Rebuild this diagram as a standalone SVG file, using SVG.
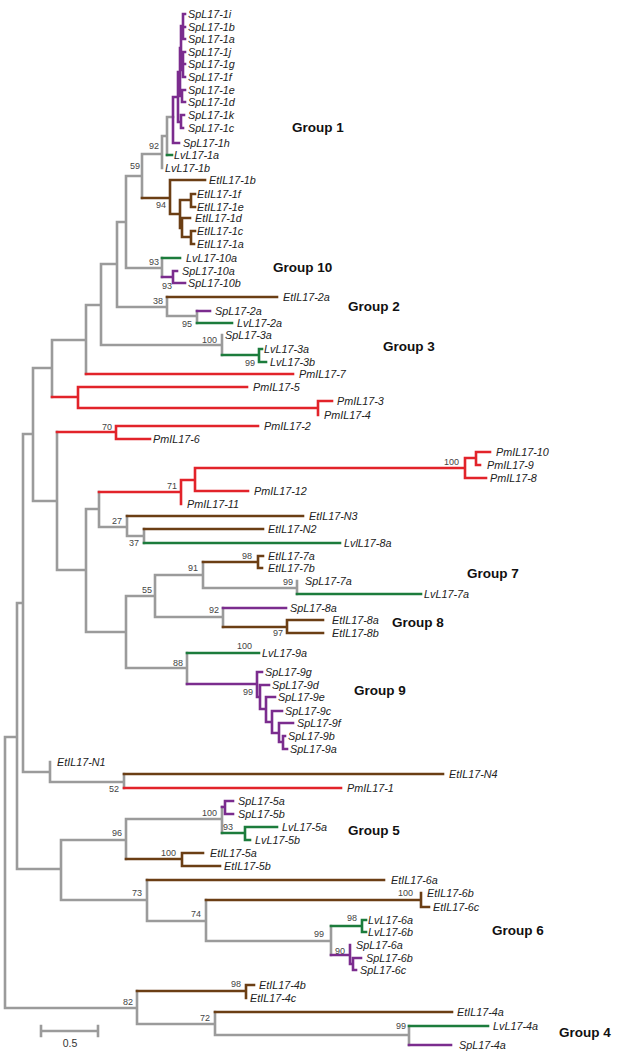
<svg xmlns="http://www.w3.org/2000/svg" width="617" height="1056" viewBox="0 0 617 1056">
<style>
.e{fill:none;stroke-width:2.6;stroke-linecap:square}
.gy{stroke:#9b9b9b}.rd{stroke:#e2232a}.pu{stroke:#7b2c8e}.gn{stroke:#1c7c3c}.br{stroke:#6b3e14}
.lf{font-family:"Liberation Sans",Arial,sans-serif;font-style:italic;font-size:10.8px;fill:#222}
.bs{font-family:"Liberation Sans",Arial,sans-serif;font-size:9px;fill:#444;text-anchor:end}
.gp{font-family:"Liberation Sans",Arial,sans-serif;font-weight:bold;font-size:13.5px;fill:#111}
</style>
<rect width="617" height="1056" fill="#fff"/>
<g id="connectors">
<path class="e gy" d="M5 737V1008M5 737H17M5 1008H137M17 603V869M17 603H23M17 869H61M23 434V772M23 434H33M23 772H50M33 368V501M33 368H52M33 501H57M52 340V397M52 340H86M86 305V374M86 305H101M101 264V345M101 264H117M101 345H222M222 335V355M117 222V307M117 222H126M117 307H167M167 297V316M167 316H197M197 311V323M126 176V268M126 176H142M126 268H162M162 258V277M142 154V198M142 154H162M162 136V168M162 136H167M167 117V155M167 117H173M57 432V570M57 570H86M86 509V632M86 509H99M86 632H126M99 492V527M99 527H127M127 516V536M127 536H144M144 529V543M126 596V668M126 596H155M126 668H187M155 575V617M155 575H203M155 617H223M203 562V588M203 588H297M297 581V594M223 608V627M187 653V684M50 762V782M50 782H124M124 774V788M61 840V900M61 840H126M61 900H147M126 819V859M126 819H222M222 807V833M147 880V921M147 921H206M206 900V941M206 941H331M331 926V955M137 991V1024M137 1024H215M215 1012V1035M215 1035H409M409 1026V1045"/>
<path class="e rd" d="M52 397H78M78 387V408M78 387H247M78 408H318M318 401V415M318 401H332M86 374H293M57 432H116M116 426V439M116 426H258M116 439H150M99 492H181M181 480V504M181 480H195M195 468V491M195 468H465M195 491H248M465 458V478M465 458H476M465 478H486M476 452V465M476 452H490M476 465H480M124 788H341"/>
<path class="e pu" d="M173 97V143M173 143H179M173 97H178M178 72V122M178 122H181M181 115V128M181 115H184M181 128H183M178 72H180M180 48V96M180 96H182M182 90V102M182 90H185M182 102H185M180 48H181M181 26V70M181 26H183M183 14V39M183 14H185M183 27H185M183 39H185M181 70H183M183 52V77M183 52H185M183 64H185M183 77H185M162 277H173M173 271V283M173 271H177M173 283H185M197 311H210M223 608H286M187 684H257M257 672V697M257 672H262M257 697H260M260 685V709M260 685H269M260 709H266M266 697V722M266 697H275M266 722H272M272 711V733M272 711H282M272 733H279M279 723V742M279 723H293M279 742H283M283 736V749M283 736H285M283 749H287M222 807H225M225 801V814M225 801H233M225 814H233M331 955H350M350 945V964M350 964H353M353 958V970M353 958H361M353 970H356M409 1045H451"/>
<path class="e gn" d="M167 155H172M162 258H180M197 323H232M222 355H259M259 349V362M259 349H262M259 362H266M144 543H340M297 594H421M187 653H259M222 833H245M245 827V840M245 827H277M245 840H250M331 926H362M362 920V932M362 920H366M362 932H366M409 1026H488"/>
<path class="e br" d="M142 198H170M170 180V214M170 180H205M170 214H180M180 200V228M180 200H191M191 194V207M191 194H195M191 207H195M180 228H182M182 218V237M182 218H190M182 237H191M191 231V244M191 231H195M191 244H194M167 297H277M127 516H303M144 529H263M203 562H258M258 556V568M258 556H263M258 568H262M223 627H287M287 620V633M287 620H323M287 633H323M124 774H443M126 859H182M182 853V866M182 853H203M182 866H220M147 880H384M206 900H421M421 893V907M421 907H429M137 991H246M246 985V998M246 985H254M215 1012H452"/>
</g>
<g id="leaves">
<g id="SpL17-1i"><text class="lf" x="188" y="18">SpL17-1i</text></g>
<g id="SpL17-1b"><text class="lf" x="188" y="31">SpL17-1b</text></g>
<g id="SpL17-1a"><text class="lf" x="188" y="43">SpL17-1a</text></g>
<g id="SpL17-1j"><text class="lf" x="188" y="56">SpL17-1j</text></g>
<g id="SpL17-1g"><text class="lf" x="188" y="68">SpL17-1g</text></g>
<g id="SpL17-1f"><text class="lf" x="188" y="81">SpL17-1f</text></g>
<g id="SpL17-1e"><text class="lf" x="188" y="94">SpL17-1e</text></g>
<g id="SpL17-1d"><text class="lf" x="188" y="106">SpL17-1d</text></g>
<g id="SpL17-1k"><text class="lf" x="188" y="119">SpL17-1k</text></g>
<g id="SpL17-1c"><text class="lf" x="188" y="132">SpL17-1c</text></g>
<g id="SpL17-1h"><text class="lf" x="183" y="147">SpL17-1h</text></g>
<g id="LvL17-1a"><text class="lf" x="174" y="159">LvL17-1a</text></g>
<g id="LvL17-1b"><text class="lf" x="165" y="172">LvL17-1b</text></g>
<g id="EtIL17-1b"><text class="lf" x="209" y="184">EtIL17-1b</text></g>
<g id="EtIL17-1f"><text class="lf" x="197" y="198">EtIL17-1f</text></g>
<g id="EtIL17-1e"><text class="lf" x="197" y="211">EtIL17-1e</text></g>
<g id="EtIL17-1d"><text class="lf" x="195" y="222">EtIL17-1d</text></g>
<g id="EtIL17-1c"><text class="lf" x="197" y="235">EtIL17-1c</text></g>
<g id="EtIL17-1a"><text class="lf" x="197" y="248">EtIL17-1a</text></g>
<g id="LvL17-10a"><text class="lf" x="186" y="262">LvL17-10a</text></g>
<g id="SpL17-10a"><text class="lf" x="182" y="275">SpL17-10a</text></g>
<g id="SpL17-10b"><text class="lf" x="188" y="287">SpL17-10b</text></g>
<g id="EtIL17-2a"><text class="lf" x="283" y="301">EtIL17-2a</text></g>
<g id="SpL17-2a"><text class="lf" x="215" y="315">SpL17-2a</text></g>
<g id="LvL17-2a"><text class="lf" x="237" y="327">LvL17-2a</text></g>
<g id="SpL17-3a"><text class="lf" x="225" y="339">SpL17-3a</text></g>
<g id="LvL17-3a"><text class="lf" x="264" y="353">LvL17-3a</text></g>
<g id="LvL17-3b"><text class="lf" x="270" y="366">LvL17-3b</text></g>
<g id="PmIL17-7"><text class="lf" x="299" y="378">PmIL17-7</text></g>
<g id="PmIL17-5"><text class="lf" x="253" y="391">PmIL17-5</text></g>
<g id="PmIL17-3"><text class="lf" x="337" y="405">PmIL17-3</text></g>
<g id="PmIL17-4"><text class="lf" x="324" y="419">PmIL17-4</text></g>
<g id="PmIL17-2"><text class="lf" x="264" y="430">PmIL17-2</text></g>
<g id="PmIL17-6"><text class="lf" x="153" y="443">PmIL17-6</text></g>
<g id="PmIL17-10"><text class="lf" x="496" y="456">PmIL17-10</text></g>
<g id="PmIL17-9"><text class="lf" x="487" y="469">PmIL17-9</text></g>
<g id="PmIL17-8"><text class="lf" x="490" y="482">PmIL17-8</text></g>
<g id="PmIL17-12"><text class="lf" x="254" y="495">PmIL17-12</text></g>
<g id="PmIL17-11"><text class="lf" x="187" y="508">PmIL17-11</text></g>
<g id="EtIL17-N3"><text class="lf" x="309" y="520">EtIL17-N3</text></g>
<g id="EtIL17-N2"><text class="lf" x="268" y="533">EtIL17-N2</text></g>
<g id="LvlL17-8a"><text class="lf" x="344" y="547">LvlL17-8a</text></g>
<g id="EtIL17-7a"><text class="lf" x="268" y="560">EtIL17-7a</text></g>
<g id="EtIL17-7b"><text class="lf" x="268" y="572">EtIL17-7b</text></g>
<g id="SpL17-7a"><text class="lf" x="305" y="585">SpL17-7a</text></g>
<g id="LvL17-7a"><text class="lf" x="424" y="598">LvL17-7a</text></g>
<g id="SpL17-8a"><text class="lf" x="290" y="612">SpL17-8a</text></g>
<g id="EtIL17-8a"><text class="lf" x="332" y="624">EtIL17-8a</text></g>
<g id="EtIL17-8b"><text class="lf" x="332" y="637">EtIL17-8b</text></g>
<g id="LvL17-9a"><text class="lf" x="262" y="657">LvL17-9a</text></g>
<g id="SpL17-9g"><text class="lf" x="265" y="676">SpL17-9g</text></g>
<g id="SpL17-9d"><text class="lf" x="272" y="689">SpL17-9d</text></g>
<g id="SpL17-9e"><text class="lf" x="278" y="701">SpL17-9e</text></g>
<g id="SpL17-9c"><text class="lf" x="285" y="715">SpL17-9c</text></g>
<g id="SpL17-9f"><text class="lf" x="297" y="727">SpL17-9f</text></g>
<g id="SpL17-9b"><text class="lf" x="288" y="740">SpL17-9b</text></g>
<g id="SpL17-9a"><text class="lf" x="290" y="753">SpL17-9a</text></g>
<g id="EtIL17-N1"><text class="lf" x="57" y="766">EtIL17-N1</text></g>
<g id="EtIL17-N4"><text class="lf" x="449" y="778">EtIL17-N4</text></g>
<g id="PmIL17-1"><text class="lf" x="347" y="792">PmIL17-1</text></g>
<g id="SpL17-5a"><text class="lf" x="238" y="805">SpL17-5a</text></g>
<g id="SpL17-5b"><text class="lf" x="238" y="818">SpL17-5b</text></g>
<g id="LvL17-5a"><text class="lf" x="282" y="831">LvL17-5a</text></g>
<g id="LvL17-5b"><text class="lf" x="255" y="844">LvL17-5b</text></g>
<g id="EtIL17-5a"><text class="lf" x="210" y="857">EtIL17-5a</text></g>
<g id="EtIL17-5b"><text class="lf" x="224" y="870">EtIL17-5b</text></g>
<g id="EtIL17-6a"><text class="lf" x="391" y="884">EtIL17-6a</text></g>
<g id="EtIL17-6b"><text class="lf" x="427" y="897">EtIL17-6b</text></g>
<g id="EtIL17-6c"><text class="lf" x="433" y="911">EtIL17-6c</text></g>
<g id="LvL17-6a"><text class="lf" x="368" y="924">LvL17-6a</text></g>
<g id="LvL17-6b"><text class="lf" x="368" y="936">LvL17-6b</text></g>
<g id="SpL17-6a"><text class="lf" x="356" y="949">SpL17-6a</text></g>
<g id="SpL17-6b"><text class="lf" x="366" y="962">SpL17-6b</text></g>
<g id="SpL17-6c"><text class="lf" x="360" y="974">SpL17-6c</text></g>
<g id="EtIL17-4b"><text class="lf" x="259" y="989">EtIL17-4b</text></g>
<g id="EtIL17-4c"><text class="lf" x="250" y="1002">EtIL17-4c</text></g>
<g id="EtIL17-4a"><text class="lf" x="457" y="1016">EtIL17-4a</text></g>
<g id="LvL17-4a"><text class="lf" x="493" y="1030">LvL17-4a</text></g>
<g id="SpL17-4a"><text class="lf" x="459" y="1049">SpL17-4a</text></g>
</g>
<g id="bootstrap">
<text class="bs" x="159" y="149">92</text>
<text class="bs" x="140" y="169">59</text>
<text class="bs" x="166" y="208">94</text>
<text class="bs" x="159" y="265">93</text>
<text class="bs" x="172" y="289">93</text>
<text class="bs" x="163" y="304">38</text>
<text class="bs" x="192" y="327">95</text>
<text class="bs" x="217" y="343">100</text>
<text class="bs" x="255" y="366">99</text>
<text class="bs" x="112" y="430">70</text>
<text class="bs" x="177" y="489">71</text>
<text class="bs" x="459" y="465">100</text>
<text class="bs" x="122" y="524">27</text>
<text class="bs" x="139" y="546">37</text>
<text class="bs" x="252" y="559">98</text>
<text class="bs" x="198" y="571">91</text>
<text class="bs" x="152" y="593">55</text>
<text class="bs" x="293" y="585">99</text>
<text class="bs" x="219" y="613">92</text>
<text class="bs" x="283" y="636">97</text>
<text class="bs" x="252" y="649">100</text>
<text class="bs" x="183" y="666">88</text>
<text class="bs" x="253" y="695">99</text>
<text class="bs" x="119" y="792">52</text>
<text class="bs" x="217" y="816">100</text>
<text class="bs" x="233" y="830">93</text>
<text class="bs" x="122" y="836">96</text>
<text class="bs" x="176" y="856">100</text>
<text class="bs" x="142" y="896">73</text>
<text class="bs" x="413" y="896">100</text>
<text class="bs" x="201" y="917">74</text>
<text class="bs" x="357" y="921">98</text>
<text class="bs" x="324" y="937">99</text>
<text class="bs" x="345" y="954">90</text>
<text class="bs" x="133" y="1005">82</text>
<text class="bs" x="241" y="987">98</text>
<text class="bs" x="210" y="1021">72</text>
<text class="bs" x="406" y="1029">99</text>
</g>
<g id="groups">
<g id="group1"><text class="gp" x="292" y="132">Group 1</text></g>
<g id="group10"><text class="gp" x="273" y="272">Group 10</text></g>
<g id="group2"><text class="gp" x="348" y="311">Group 2</text></g>
<g id="group3"><text class="gp" x="383" y="351">Group 3</text></g>
<g id="group7"><text class="gp" x="467" y="578">Group 7</text></g>
<g id="group8"><text class="gp" x="392" y="627">Group 8</text></g>
<g id="group9"><text class="gp" x="354" y="695">Group 9</text></g>
<g id="group5"><text class="gp" x="348" y="835">Group 5</text></g>
<g id="group6"><text class="gp" x="492" y="935">Group 6</text></g>
<g id="group4"><text class="gp" x="559" y="1037">Group 4</text></g>
</g>
<g id="scale">
<path class="e gy" d="M41 1031H98M41 1026V1036M98 1026V1036"/>
<text x="70" y="1047" font-family="Liberation Sans, Arial, sans-serif" font-size="10.5" fill="#333" text-anchor="middle">0.5</text>
</g>
</svg>
